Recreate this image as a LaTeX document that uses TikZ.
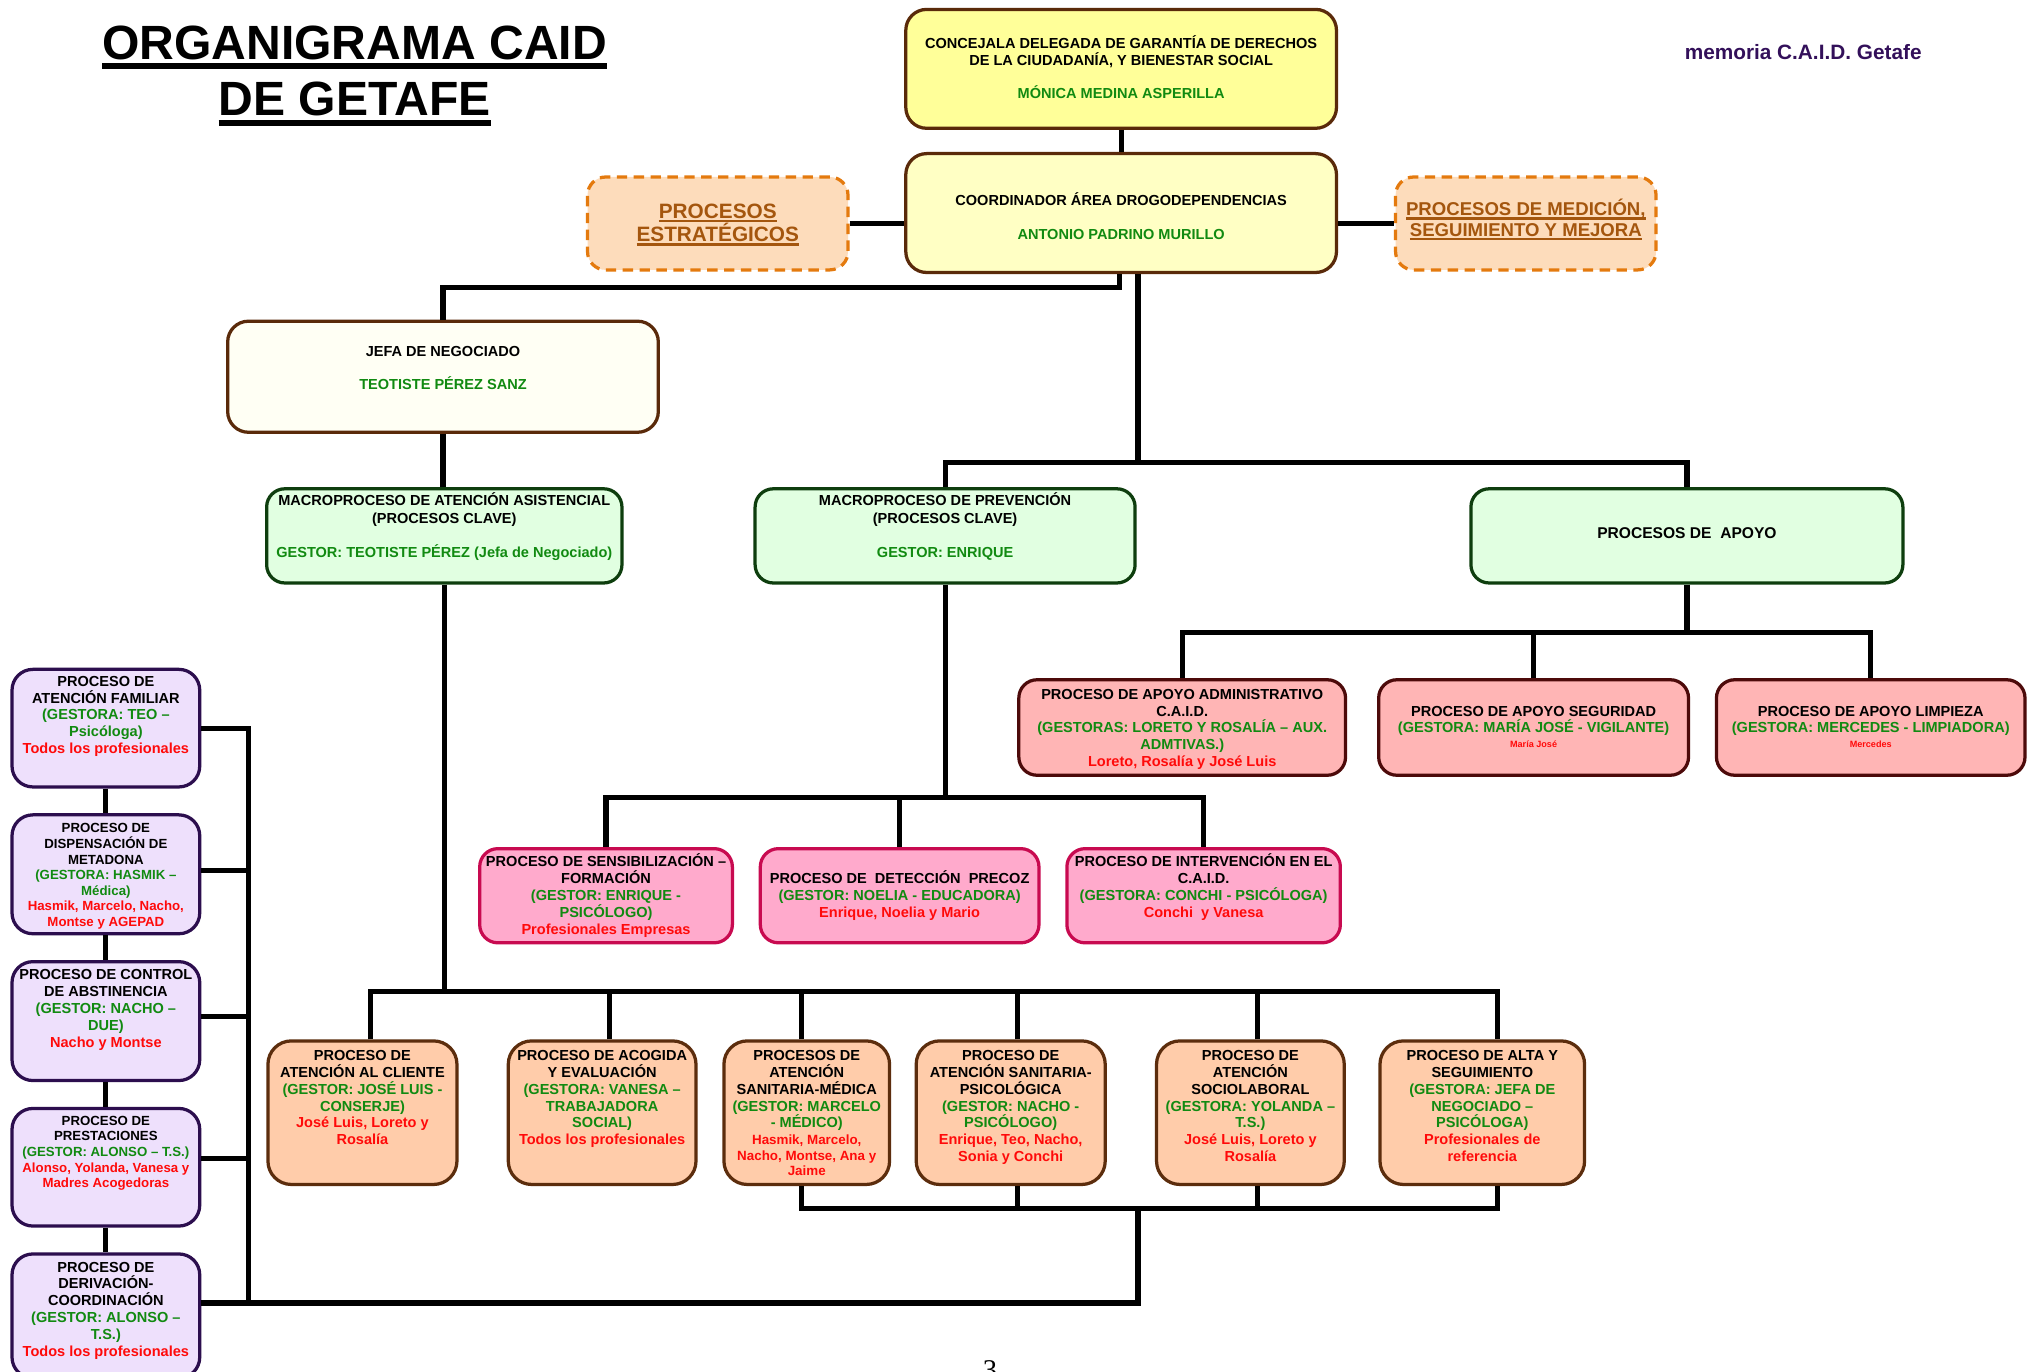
\documentclass[tikz,border=0pt]{standalone}
\usepackage{fontspec}
\setmainfont{Liberation Sans}
\newfontfamily\seriffam{Liberation Serif}
\newsavebox{\myulbox}
\newcommand{\myul}[1]{\sbox{\myulbox}{#1}\rlap{\rule[-2.8pt]{\wd\myulbox}{1.8pt}}\usebox{\myulbox}}
\newcommand{\fl}{\rule{0pt}{10.5pt}}
\definecolor{cYel}{HTML}{FFFF99}
\definecolor{cYelB}{HTML}{FFFFC4}
\definecolor{cJef}{HTML}{FFFFF4}
\definecolor{cBrn}{HTML}{5A2A0A}
\definecolor{cMac}{HTML}{E1FFE1}
\definecolor{cMacB}{HTML}{0E3E0E}
\definecolor{cApo}{HTML}{FFB5B5}
\definecolor{cApoB}{HTML}{4D0A0A}
\definecolor{cPnk}{HTML}{FFAACC}
\definecolor{cPnkB}{HTML}{C80A50}
\definecolor{cOrg}{HTML}{FFCCAA}
\definecolor{cOrgB}{HTML}{5C2D0D}
\definecolor{cLav}{HTML}{EEE0FC}
\definecolor{cLavB}{HTML}{2C0E4E}
\definecolor{cDash}{HTML}{FDDCBB}
\definecolor{cDashB}{HTML}{E47A0E}
\definecolor{cDashT}{HTML}{A4560E}
\definecolor{cG}{HTML}{118A11}
\definecolor{cR}{HTML}{FF0A0A}
\definecolor{cPur}{HTML}{33105A}
\newcommand{\GN}[1]{\textcolor{cG}{#1}}
\newcommand{\RD}[1]{\textcolor{cR}{#1}}
\newcommand{\RDsmall}[1]{{\fontsize{7}{8}\selectfont\textcolor{cR}{#1}}}
\newcommand{\RDmid}[1]{{\fontsize{10.3}{12}\selectfont\textcolor{cR}{#1}}}
\newcommand{\mybox}[6]{\node[#1, minimum width={#5-#3-2.5}, minimum height={#6-#4-2.5}] (#2) at ({(#3+#5)/2},{(#4+#6)/2}) {};}
\tikzset{
  bx/.style={draw, line width=2.5pt, inner sep=0pt},
  bcon/.style={bx, rounded corners=16pt, fill=cYel, draw=cBrn},
  bcoo/.style={bx, rounded corners=16pt, fill=cYelB, draw=cBrn},
  bjef/.style={bx, rounded corners=16pt, fill=cJef, draw=cBrn},
  bdash/.style={bx, rounded corners=14pt, fill=cDash, draw=cDashB, dash pattern=on 8pt off 5pt},
  bmac/.style={bx, rounded corners=14pt, fill=cMac, draw=cMacB},
  bapo/.style={bx, rounded corners=14pt, fill=cApo, draw=cApoB},
  bpnk/.style={bx, rounded corners=14pt, fill=cPnk, draw=cPnkB},
  borg/.style={bx, rounded corners=18pt, fill=cOrg, draw=cOrgB},
  blav/.style={bx, rounded corners=16pt, fill=cLav, draw=cLavB},
  txt/.style={align=center, inner sep=0pt, anchor=north, yshift=10.5pt, font=\bfseries\fontsize{11.2}{13}\selectfont},
  txts/.style={align=center, inner sep=0pt, anchor=north, yshift=10.5pt, font=\bfseries\fontsize{10.2}{12}\selectfont},
  conn/.style={line width=4pt, draw=black},
}
\begin{document}
\begin{tikzpicture}[x=1pt,y=-1pt]
\fill[white] (0,0) rectangle (1568,1056);
\useasboundingbox (0,0) rectangle (1568,1056);

% title
\node[anchor=base, inner sep=0pt, font=\bfseries\fontsize{37}{44}\selectfont] (t1) at (273,46) {ORGANIGRAMA CAID};
\node[anchor=base, inner sep=0pt, font=\bfseries\fontsize{37}{44}\selectfont] (t2) at (273,89) {DE GETAFE};
\draw[line width=4.5pt] ([yshift=-5pt]t1.base west) -- ([yshift=-5pt]t1.base east);
\draw[line width=4.5pt] ([yshift=-6pt]t2.base west) -- ([yshift=-6pt]t2.base east);
\node[anchor=base, inner sep=0pt, text=cPur, font=\bfseries\fontsize{16}{19}\selectfont] (mem) at (1388,46) {memoria C.A.I.D. Getafe};

% boxes
\mybox{bcon}{con}{696}{6}{1030}{100}
\mybox{bcoo}{coo}{696}{117}{1030}{211}
\mybox{bdash}{est}{451}{135}{654}{209}
\mybox{bdash}{med}{1073}{135}{1276}{209}
\mybox{bjef}{jef}{174}{246}{508}{334}
\mybox{bmac}{mas}{204}{375}{480}{450}
\mybox{bmac}{mpr}{580}{375}{875}{450}
\mybox{bmac}{apo}{1131}{375}{1466}{450}
\mybox{bapo}{aad}{783}{522}{1037}{598}
\mybox{bapo}{ase}{1060}{522}{1301}{598}
\mybox{bapo}{ali}{1320}{522}{1560}{598}
\mybox{bpnk}{sen}{368}{652}{565}{727}
\mybox{bpnk}{det}{584}{652}{801}{727}
\mybox{bpnk}{int}{820}{652}{1033}{727}
\mybox{borg}{bcl}{205}{800}{353}{913}
\mybox{borg}{bac}{390}{800}{537}{913}
\mybox{borg}{bsm}{556}{800}{686}{913}
\mybox{borg}{bsp}{704}{800}{852}{913}
\mybox{borg}{bso}{889}{800}{1036}{913}
\mybox{borg}{bal}{1061}{800}{1221}{913}
\mybox{blav}{lfa}{8}{514}{155}{607}
\mybox{blav}{ldi}{8}{626}{155}{720}
\mybox{blav}{lco}{8}{739}{155}{833}
\mybox{blav}{lpr}{8}{852}{155}{945}
\mybox{blav}{lde}{8}{964}{155}{1062}

% texts (y = first baseline)
\node[txt] (cont) at (863,37) {\fl CONCEJALA DELEGADA DE GARANTÍA DE DERECHOS\\DE LA CIUDADANÍA, Y BIENESTAR SOCIAL\\[13pt]\GN{MÓNICA MEDINA ASPERILLA}};
\node[txt] (coot) at (863,158) {\fl COORDINADOR ÁREA DROGODEPENDENCIAS\\[13pt]\GN{ANTONIO PADRINO MURILLO}};
\node[txt, yshift=4.5pt, text=cDashT, font=\bfseries\fontsize{16}{18}\selectfont] (estt) at (552.5,168) {\rule{0pt}{15pt}\myul{PROCESOS}\\\myul{ESTRATÉGICOS}};
\node[txt, yshift=3pt, text=cDashT, font=\bfseries\fontsize{14.3}{16}\selectfont] (medt) at (1174.5,166) {\rule{0pt}{13.5pt}\myul{PROCESOS DE MEDICIÓN,}\\\myul{SEGUIMIENTO Y MEJORA}};
\node[txt] (jeft) at (341,274) {\fl JEFA DE NEGOCIADO\\[13pt]\GN{TEOTISTE PÉREZ SANZ}};
\node[txt, font=\bfseries\fontsize{11.2}{13.5}\selectfont] (mast) at (342,389) {\fl MACROPROCESO DE ATENCIÓN ASISTENCIAL\\(PROCESOS CLAVE)\\[13pt]\GN{GESTOR: TEOTISTE PÉREZ (Jefa de Negociado)}};
\node[txt, font=\bfseries\fontsize{11.2}{13.5}\selectfont] (mprt) at (727.5,389) {\fl MACROPROCESO DE PREVENCIÓN\\(PROCESOS CLAVE)\\[13pt]\GN{GESTOR: ENRIQUE}};
\node[txt, font=\bfseries\fontsize{12}{14}\selectfont] (apot) at (1298.5,414) {\fl PROCESOS DE~ APOYO};
\node[txt] (aadt) at (910,538) {\fl PROCESO DE APOYO ADMINISTRATIVO\\C.A.I.D.\\\GN{(GESTORAS: LORETO Y ROSALÍA – AUX.}\\\GN{ADMTIVAS.)}\\\RD{Loreto, Rosalía y José Luis}};
\node[txt] (aset) at (1180.5,551) {\fl PROCESO DE APOYO SEGURIDAD\\\GN{(GESTORA: MARÍA JOSÉ - VIGILANTE)}\\[-2pt]\RDsmall{María José}};
\node[txt] (alit) at (1440,551) {\fl PROCESO DE APOYO LIMPIEZA\\\GN{(GESTORA: MERCEDES - LIMPIADORA)}\\[-2pt]\RDsmall{Mercedes}};
\node[txt] (sent) at (466.5,667) {\fl PROCESO DE SENSIBILIZACIÓN –\\FORMACIÓN\\\GN{(GESTOR: ENRIQUE -}\\\GN{PSICÓLOGO)}\\\RD{Profesionales Empresas}};
\node[txt] (dett) at (692.5,680) {\fl PROCESO DE~ DETECCIÓN~ PRECOZ\\\GN{(GESTOR: NOELIA - EDUCADORA)}\\\RD{Enrique, Noelia y Mario}};
\node[txt] (intt) at (926.5,667) {\fl PROCESO DE INTERVENCIÓN EN EL\\C.A.I.D.\\\GN{(GESTORA: CONCHI - PSICÓLOGA)}\\\RD{Conchi~ y Vanesa}};
\node[txt] (bclt) at (279,816) {\fl PROCESO DE\\ATENCIÓN AL CLIENTE\\\GN{(GESTOR: JOSÉ LUIS -}\\\GN{CONSERJE)}\\\RD{José Luis, Loreto y}\\\RD{Rosalía}};
\node[txt] (bact) at (463.5,816) {\fl PROCESO DE ACOGIDA\\Y EVALUACIÓN\\\GN{(GESTORA: VANESA –}\\\GN{TRABAJADORA}\\\GN{SOCIAL)}\\\RD{Todos los profesionales}};
\node[txt] (bsmt) at (621,816) {\fl PROCESOS DE\\ATENCIÓN\\SANITARIA-MÉDICA\\\GN{(GESTOR: MARCELO}\\\GN{- MÉDICO)}\\\RDmid{Hasmik, Marcelo,}\\[-1pt]\RDmid{Nacho, Montse, Ana y}\\[-1pt]\RDmid{Jaime}};
\node[txt] (bspt) at (778,816) {\fl PROCESO DE\\ATENCIÓN SANITARIA-\\PSICOLÓGICA\\\GN{(GESTOR: NACHO -}\\\GN{PSICÓLOGO)}\\\RD{Enrique, Teo, Nacho,}\\\RD{Sonia y Conchi}};
\node[txt] (bsot) at (962.5,816) {\fl PROCESO DE\\ATENCIÓN\\SOCIOLABORAL\\\GN{(GESTORA: YOLANDA –}\\\GN{T.S.)}\\\RD{José Luis, Loreto y}\\\RD{Rosalía}};
\node[txt] (balt) at (1141,816) {\fl PROCESO DE ALTA Y\\SEGUIMIENTO\\\GN{(GESTORA: JEFA DE}\\\GN{NEGOCIADO –}\\\GN{PSICÓLOGA)}\\\RD{Profesionales de}\\\RD{referencia}};
\node[txt] (lfat) at (81.5,528) {\fl PROCESO DE\\ATENCIÓN FAMILIAR\\\GN{(GESTORA: TEO –}\\\GN{Psicóloga)}\\\RD{Todos los profesionales}};
\node[txts] (ldit) at (81.5,641) {\fl PROCESO DE\\DISPENSACIÓN DE\\METADONA\\\GN{(GESTORA: HASMIK –}\\\GN{Médica)}\\\RD{Hasmik, Marcelo, Nacho,}\\\RD{Montse y AGEPAD}};
\node[txt] (lcot) at (81.5,754) {\fl PROCESO DE CONTROL\\DE ABSTINENCIA\\\GN{(GESTOR: NACHO –}\\\GN{DUE)}\\\RD{Nacho y Montse}};
\node[txts] (lprt) at (81.5,866) {\fl PROCESO DE\\PRESTACIONES\\\GN{(GESTOR: ALONSO – T.S.)}\\\RD{Alonso, Yolanda, Vanesa y}\\\RD{Madres Acogedoras}};
\node[txt] (ldet) at (81.5,979) {\fl PROCESO DE\\DERIVACIÓN-\\COORDINACIÓN\\\GN{(GESTOR: ALONSO –}\\\GN{T.S.)}\\\RD{Todos los profesionales}};

\node[anchor=north, inner sep=0pt, font=\seriffam\fontsize{22}{24}\selectfont] (pg) at (762,1047) {3};

% connectors: top
\draw[conn] (con.south) -- (coo.north);
\draw[conn] (est.east) -- (est.east -| coo.west);
\draw[conn] (med.west) -- (med.west -| coo.east);
\draw[conn] ([xshift=-1pt]coo.south) -- ++(0,10) -| (jef.north);
\coordinate (cs) at ([xshift=13pt]coo.south);
\path (mpr.north) ++(0,-19) coordinate (hp);
\draw[conn] (cs) -- (cs |- hp);
\draw[conn] (mpr.north) -- (hp) -| (apo.north);
\draw[conn] (jef.south) -- (jef.south |- mas.north);

% prevention branch
\path (mpr.south) ++(0,164) coordinate (hv);
\draw[conn] (mpr.south) -- (hv);
\draw[conn] (sen.north) |- (hv) -| (int.north);
\draw[conn] (det.north) -- (det.north |- hv);

% support branch
\path (apo.south) ++(0,37) coordinate (hq);
\draw[conn] (apo.south) -- (hq);
\draw[conn] (aad.north) |- (hq) -| (ali.north);
\draw[conn] (ase.north) -- (ase.north |- hq);

% care branch
\path (mas.south) ++(0,313) coordinate (ha);
\draw[conn] (mas.south) -- (ha);
\coordinate (d1) at ([xshift=6pt]bcl.north);
\coordinate (d2) at ([xshift=5.5pt]bac.north);
\coordinate (d3) at ([xshift=-4pt]bsm.north);
\coordinate (d4) at ([xshift=5pt]bsp.north);
\coordinate (d5) at ([xshift=5.5pt]bso.north);
\coordinate (d6) at ([xshift=12pt]bal.north);
\draw[conn] (d1) |- (ha) -| (d6);
\foreach \d in {d2,d3,d4,d5} \draw[conn] (\d) -- (\d |- ha);

% bottom collector
\coordinate (u3) at ([xshift=-4pt]bsm.south);
\coordinate (u4) at ([xshift=5pt]bsp.south);
\coordinate (u5) at ([xshift=5.5pt]bso.south);
\coordinate (u6) at ([xshift=12pt]bal.south);
\path (u3) ++(0,17) coordinate (hc);
\draw[conn] (u3) -- (hc) -| (u6);
\draw[conn] (u4) -- (u4 |- hc);
\draw[conn] (u5) -- (u5 |- hc);
\coordinate (ld) at ([yshift=10pt]lde.east);
\draw[conn] (cs |- hc) |- (ld);
\coordinate (lv) at ([xshift=36pt]lfa.east);
\draw[conn] (lfa.east) -- (lv) -- (lv |- ld);
\draw[conn] ([yshift=3pt]ldi.east) -- ++(36,0);
\draw[conn] ([yshift=3.5pt]lco.east) -- ++(36,0);
\draw[conn] ([yshift=6.5pt]lpr.east) -- ++(36,0);
\draw[conn] (lfa.south) -- (ldi.north);
\draw[conn] (ldi.south) -- (lco.north);
\draw[conn] (lco.south) -- (lpr.north);
\draw[conn] (lpr.south) -- (lde.north);
\end{tikzpicture}
\end{document}
